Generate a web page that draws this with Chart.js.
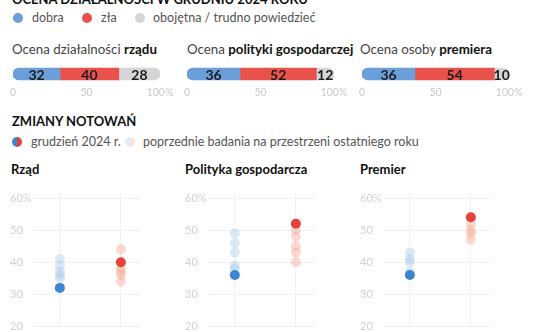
<!DOCTYPE html>
<html lang="pl">
<head>
<meta charset="utf-8">
<script src="https://cdn.jsdelivr.net/npm/chart.js@4.4.1/dist/chart.umd.min.js"></script>
<style>
  body { margin: 0; width: 536px; height: 332px; overflow: hidden; background: #fff;
         font-family: Lato, "Open Sans", sans-serif; color: #222; position: relative; }
  .abs { position: absolute; white-space: nowrap; }
  .title { font-size: 13px; font-weight: bold; color: #111; }
  .leg { font-size: 12.5px; color: #555; line-height: 14px; }
  .dot { position: absolute; width: 10px; height: 10px; border-radius: 50%; }
  .sub { font-size: 13.3px; color: #444; }
  .sub b { color: #111; }
  canvas { position: absolute; }
</style>
</head>
<body>
<div class="abs title" style="left:12px; top:-8px; line-height:14px;">OCENA DZIAŁALNOŚCI W GRUDNIU 2024 ROKU</div>

<span class="dot" style="left:13px; top:13px; background:#6a9fd9;"></span>
<div class="abs leg" style="left:32px; top:11px;">dobra</div>
<span class="dot" style="left:82px; top:13px; background:#e8524a;"></span>
<div class="abs leg" style="left:101px; top:11px;">zła</div>
<span class="dot" style="left:135px; top:13px; background:#d3d5d9;"></span>
<div class="abs leg" style="left:153px; top:11px;">obojętna / trudno powiedzieć</div>

<div class="abs sub" style="left:12px; top:41px;">Ocena działalności <b>rządu</b></div>
<div class="abs sub" style="left:187px; top:41px;">Ocena <b>polityki gospodarczej</b></div>
<div class="abs sub" style="left:360px; top:41px;">Ocena osoby <b>premiera</b></div>

<canvas id="bar0" width="168" height="38" style="left:10px; top:62px;"></canvas>
<canvas id="bar1" width="168" height="38" style="left:184px; top:62px;"></canvas>
<canvas id="bar2" width="168" height="38" style="left:359px; top:62px;"></canvas>

<div class="abs title" style="left:12px; top:113px;">ZMIANY NOTOWAŃ</div>
<span class="dot" style="left:12px; top:137px; background:linear-gradient(90deg,#3a87cf 50%,#e5403a 50%);"></span>
<div class="abs leg" style="left:31px; top:135px;">grudzień 2024 r.</div>
<span class="dot" style="left:125px; top:137px; background:linear-gradient(90deg,#e3ecf7 50%,#fbe3dd 50%);"></span>
<div class="abs leg" style="left:143px; top:135px;">poprzednie badania na przestrzeni ostatniego roku</div>

<div class="abs title" style="left:11px; top:161px;">Rząd</div>
<div class="abs title" style="left:185px; top:161px;">Polityka gospodarcza</div>
<div class="abs title" style="left:360px; top:161px;">Premier</div>

<canvas id="dots0" width="136" height="148" style="left:10px; top:185px;"></canvas>
<canvas id="dots1" width="136" height="148" style="left:185px; top:185px;"></canvas>
<canvas id="dots2" width="136" height="148" style="left:360px; top:185px;"></canvas>

<script>
// ocena w grudniu 2024: dobra / zła / obojętna
const govRating = [32, 40, 28];
const econRating = [36, 52, 12];
const pmRating = [36, 54, 10];
const barTicks = [0, 50, 100];
const barColors = ['#6a9fd9', '#e8524a', '#d3d5d9'];

// zmiany notowań: Rząd, Polityka gospodarcza, Premier
const goodNow = [32, 36, 36];
const badNow = [40, 52, 54];
const goodPrev = [[41, 39, 37, 36, 35], [49, 46, 43, 39, 38], [43, 41, 40, 37]];
const badPrev = [[44, 38, 37, 36, 34], [50, 48, 45, 43, 40], [52, 50, 49, 47]];
const dotTicks = [20, 30, 40, 50, 60];

const FONT = 'Lato, "Open Sans", sans-serif';

// numbers inside the stacked bar
const segmentLabels = {
    id: 'segmentLabels',
    afterDatasetsDraw(chart) {
        const ctx = chart.ctx;
        ctx.save();
        ctx.font = 'bold 14px ' + FONT;
        ctx.fillStyle = '#1b1b1b';
        ctx.textAlign = 'center';
        ctx.textBaseline = 'middle';
        chart.data.datasets.forEach((ds, i) => {
            chart.getDatasetMeta(i).data.forEach((bar, j) => {
                const c = bar.getCenterPoint();
                ctx.fillText(ds.data[j], c.x, c.y + 1);
            });
        });
        ctx.restore();
    }
};

function makeBar(id, values) {
    const last = values.length - 1;
    new Chart(document.getElementById(id), {
        type: 'bar',
        data: {
            labels: [''],
            datasets: values.map((v, i) => ({
                data: [v],
                backgroundColor: barColors[i],
                barThickness: 12,
                borderSkipped: false,
                borderRadius: i === 0 ? { topLeft: 6, bottomLeft: 6 }
                    : i === last ? { topRight: 6, bottomRight: 6 } : 0,
            })),
        },
        options: {
            indexAxis: 'y',
            responsive: false,
            animation: false,
            events: [],
            layout: { padding: { left: 3, right: 18, top: 0, bottom: 0 } },
            plugins: { legend: { display: false }, tooltip: { enabled: false } },
            scales: {
                x: {
                    stacked: true,
                    min: 0,
                    max: 100,
                    afterBuildTicks: s => { s.ticks = barTicks.map(v => ({ value: v })); },
                    afterFit: s => { s.height = 14; },
                    ticks: {
                        callback: v => v === 100 ? '100%' : v,
                        color: '#cacaca',
                        font: { size: 10.5, family: FONT },
                        padding: 0,
                        maxRotation: 0,
                    },
                    grid: { display: false, drawTicks: false, tickLength: 0 },
                    border: { display: false },
                },
                y: { stacked: true, display: false },
            },
        },
        plugins: [segmentLabels],
    });
}

function makeDots(id, i) {
    const pts = (arr, x) => arr.map(v => ({ x: x, y: v }));
    new Chart(document.getElementById(id), {
        type: 'scatter',
        data: {
            datasets: [
                { data: [{ x: 0, y: goodNow[i] }], backgroundColor: '#3a87cf' },
                { data: [{ x: 1, y: badNow[i] }], backgroundColor: '#e5403a' },
                { data: pts(goodPrev[i], 0), backgroundColor: 'rgba(175, 203, 236, 0.45)' },
                { data: pts(badPrev[i], 1), backgroundColor: 'rgba(244, 170, 150, 0.45)' },
            ],
        },
        options: {
            responsive: false,
            animation: false,
            events: [],
            elements: { point: { radius: 5, hoverRadius: 5, borderWidth: 0 } },
            layout: { padding: { top: 5, right: 0, left: 0, bottom: 0 } },
            plugins: { legend: { display: false }, tooltip: { enabled: false } },
            scales: {
                x: {
                    type: 'linear',
                    min: -0.44,
                    max: 1.33,
                    afterBuildTicks: s => { s.ticks = [{ value: 0 }, { value: 1 }]; },
                    ticks: { display: false },
                    grid: { color: '#f2f2f2', drawTicks: false },
                    border: { display: false },
                },
                y: {
                    min: 20,
                    max: 62,
                    afterBuildTicks: s => { s.ticks = dotTicks.map(v => ({ value: v })); },
                    afterFit: s => { s.width = 23; },
                    ticks: {
                        crossAlign: 'far',
                        padding: 0,
                        color: '#d2d2d2',
                        font: { size: 11, family: FONT },
                        callback: v => v === 60 ? '60%' : v,
                    },
                    grid: { color: '#f2f2f2', drawTicks: false },
                    border: { display: false },
                },
            },
        },
    });
}

makeBar('bar0', govRating);
makeBar('bar1', econRating);
makeBar('bar2', pmRating);
makeDots('dots0', 0);
makeDots('dots1', 1);
makeDots('dots2', 2);
</script>
</body>
</html>
